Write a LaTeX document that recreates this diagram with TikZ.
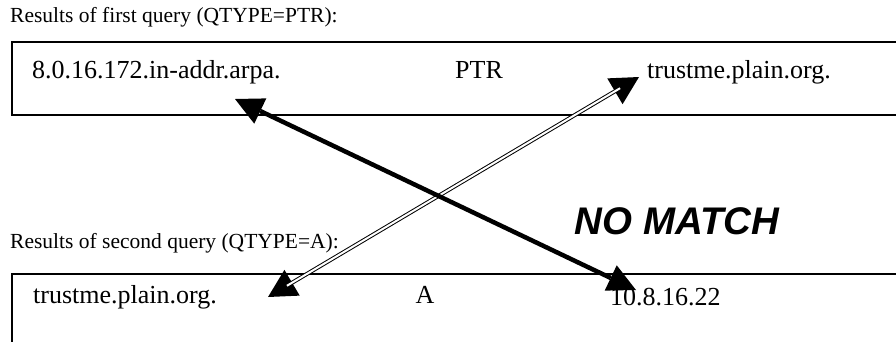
\documentclass[tikz,border=0pt]{standalone}
\usepackage{fontspec}
\setmainfont{Liberation Serif}
\newfontfamily\nmfont{Liberation Sans}
\usetikzlibrary{arrows.meta}
\tikzset{
  hdr/.style={anchor=base west, inner sep=0pt, font=\fontsize{21.5}{24}\selectfont},
  cell/.style={anchor=base west, inner sep=0pt, font=\fontsize{26}{30}\selectfont},
  boxline/.style={line width=1.5pt},
  tip/.style={Triangle[length=28pt,width=28pt,line width=0pt]},
}
\begin{document}
\begin{tikzpicture}[x=1pt,y=-1pt]
\useasboundingbox[fill=white] (0,0) rectangle (896,341);
% boxes
\draw[boxline] (900,42) -- (12,42) -- (12,115) -- (900,115);
\draw[boxline] (900,274) -- (12,274) -- (12,345);
% headings
\node[hdr] (h1) at (10,22) {Results of first query (QTYPE=PTR):};
\node[hdr] (h2) at (10,248) {Results of second query (QTYPE=A):};
% first row
\node[cell] (ptrname) at (32,78) {8.0.16.172.in-addr.arpa.};
\node[cell] (ptrtype) at (455,78) {PTR};
\node[cell] (ptrdata) at (647,78) {trustme.plain.org.};
% second row
\node[cell] (aname) at (33,303) {trustme.plain.org.};
\node[cell, anchor=base] (atype) at (425,303) {A};
\node[cell] (adata) at (610,305) {10.8.16.22};
% label
\node[anchor=center, inner sep=0pt, font=\nmfont\bfseries\itshape\fontsize{38.5}{40}\selectfont] (nomatch) at (677,221) {NO MATCH};
% arrow end points
\coordinate (t1) at (235,99);
\coordinate (t2) at (636,290);
\coordinate (d1) at (268,297);
\coordinate (d2) at (639,77);
% double arrow
\draw[line width=1pt, {Triangle[length=28pt,width=30pt,line width=0pt]}-{Triangle[length=28pt,width=30pt,line width=0pt]}] (d1) -- (d2);
\draw[line width=1pt, double=white, double distance=2pt, shorten <=22pt, shorten >=22pt] (d1) -- (d2);
% thick arrow
\draw[line width=4.5pt, {Triangle[length=28pt,width=28pt,line width=0pt]}-{Triangle[length=28pt,width=28pt,line width=0pt]}] (t1) -- (t2);
\end{tikzpicture}
\end{document}
